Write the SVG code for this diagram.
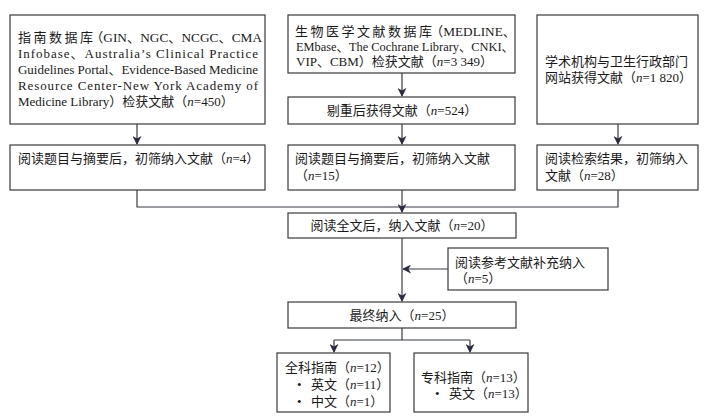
<svg xmlns="http://www.w3.org/2000/svg" width="706" height="417" viewBox="0 0 706 417">
<defs>
<style>
.box{fill:#fff;stroke:#3a3a3a;stroke-width:1.2}
.t{font-family:"Liberation Serif","Noto Sans CJK SC",serif;font-size:13px;fill:#1a1a1a}
.c{text-anchor:middle}
.ln{fill:none;stroke:#3a3a48;stroke-width:1.2}
</style>
<marker id="ah" viewBox="0 0 10 10" refX="9" refY="5" markerWidth="9" markerHeight="9" markerUnits="userSpaceOnUse" orient="auto">
<path d="M0,0 L10,5 L0,10 L3,5 Z" fill="#2a2a40"/>
</marker>
</defs>
<rect width="706" height="417" fill="#fff"/>
<g id="connectors">
<path class="ln" d="M137,124 V144" marker-end="url(#ah)"/>
<path class="ln" d="M402,73 V96" marker-end="url(#ah)"/>
<path class="ln" d="M402,124 V144" marker-end="url(#ah)"/>
<path class="ln" d="M618,124 V144" marker-end="url(#ah)"/>
<path class="ln" d="M137,190 V207 H618 V190"/>
<path class="ln" d="M402,190 V212" marker-end="url(#ah)"/>
<path class="ln" d="M402,238 V301" marker-end="url(#ah)"/>
<path class="ln" d="M448,269 H403" marker-end="url(#ah)"/>
<path class="ln" d="M402,328 V340"/>
<path class="ln" d="M334,340 H470"/>
<path class="ln" d="M334,340 V352" marker-end="url(#ah)"/>
<path class="ln" d="M470,340 V352" marker-end="url(#ah)"/>
</g>
<g id="n1">
<rect class="box" x="10" y="15" width="255" height="109"/>
<text class="t" x="18 33.5 49 64.5 80" y="42">指南数据库</text>
<text class="t" x="90" y="42" textLength="172" lengthAdjust="spacingAndGlyphs">（GIN、NGC、NCGC、CMA</text>
<text class="t" x="18" y="58" textLength="240" lengthAdjust="spacing">Infobase、Australia’s Clinical Practice</text>
<text class="t" x="18" y="74" textLength="240" lengthAdjust="spacing">Guidelines Portal、Evidence-Based Medicine</text>
<text class="t" x="18" y="90" textLength="240" lengthAdjust="spacing">Resource Center-New York Academy of</text>
<text class="t" x="18" y="106">Medicine Library）检获文献（<tspan font-style="italic">n</tspan>=450）</text>
</g>
<g id="n2">
<rect class="box" x="288" y="15" width="227" height="58"/>
<text class="t" x="295 310.5 326 341.5 357 372.5 388 403.5 419" y="36">生物医学文献数据库</text>
<text class="t" x="430" y="36" textLength="86" lengthAdjust="spacingAndGlyphs">（MEDLINE、</text>
<text class="t" x="296" y="51" textLength="218" lengthAdjust="spacingAndGlyphs">EMbase、The Cochrane Library、CNKI、</text>
<text class="t" x="296" y="66">VIP、CBM）检获文献（<tspan font-style="italic">n</tspan>=3 349）</text>
</g>
<g id="n3">
<rect class="box" x="288" y="97" width="227" height="27"/>
<text class="t c" x="402" y="115">剔重后获得文献（<tspan font-style="italic">n</tspan>=524）</text>
</g>
<g id="n4">
<rect class="box" x="537" y="15" width="161" height="109"/>
<text class="t" x="545" y="66">学术机构与卫生行政部门</text>
<text class="t" x="545" y="82">网站获得文献（<tspan font-style="italic">n</tspan>=1 820）</text>
</g>
<g id="n5">
<rect class="box" x="10" y="145" width="255" height="45"/>
<text class="t" x="18" y="163">阅读题目与摘要后，初筛纳入文献（<tspan font-style="italic">n</tspan>=4）</text>
</g>
<g id="n6">
<rect class="box" x="288" y="145" width="227" height="45"/>
<text class="t" x="295" y="163">阅读题目与摘要后，初筛纳入文献</text>
<text class="t" x="295" y="180">（<tspan font-style="italic">n</tspan>=15）</text>
</g>
<g id="n7">
<rect class="box" x="537" y="145" width="161" height="45"/>
<text class="t" x="545" y="163">阅读检索结果，初筛纳入</text>
<text class="t" x="545" y="180">文献（<tspan font-style="italic">n</tspan>=28）</text>
</g>
<g id="n8">
<rect class="box" x="288" y="213" width="228" height="25"/>
<text class="t c" x="402" y="230">阅读全文后，纳入文献（<tspan font-style="italic">n</tspan>=20）</text>
</g>
<g id="n9">
<rect class="box" x="448" y="248" width="160" height="42"/>
<text class="t" x="455" y="267">阅读参考文献补充纳入</text>
<text class="t" x="455" y="283">（<tspan font-style="italic">n</tspan>=5）</text>
</g>
<g id="n10">
<rect class="box" x="288" y="302" width="228" height="26"/>
<text class="t c" x="402" y="320">最终纳入（<tspan font-style="italic">n</tspan>=25）</text>
</g>
<g id="n11">
<rect class="box" x="277" y="353" width="113" height="59"/>
<text class="t" x="285" y="372">全科指南（<tspan font-style="italic">n</tspan>=12）</text>
<text class="t" x="297" y="389">•</text>
<text class="t" x="311" y="389">英文（<tspan font-style="italic">n</tspan>=11）</text>
<text class="t" x="297" y="406">•</text>
<text class="t" x="311" y="406">中文（<tspan font-style="italic">n</tspan>=1）</text>
</g>
<g id="n12">
<rect class="box" x="414" y="353" width="114" height="59"/>
<text class="t" x="421" y="382">专科指南（<tspan font-style="italic">n</tspan>=13）</text>
<text class="t" x="435" y="398">•</text>
<text class="t" x="449" y="398">英文（<tspan font-style="italic">n</tspan>=13）</text>
</g>
</svg>
